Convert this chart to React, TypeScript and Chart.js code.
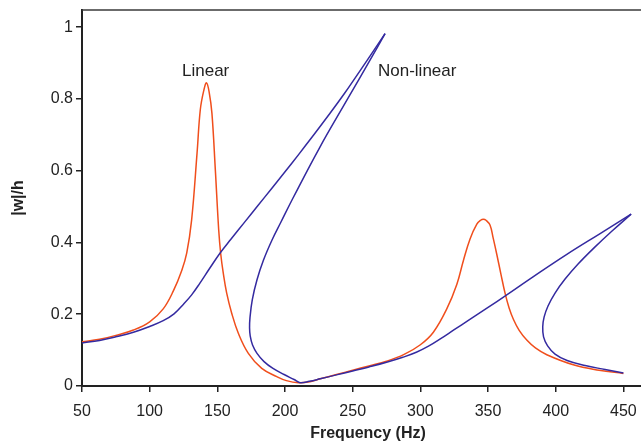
import React, { useEffect, useRef } from "react";
import { Chart, registerables } from "chart.js";

Chart.register(...registerables);

// Linear response
const linearFreq = [50, 63, 75, 88, 100, 110, 117.5, 123.7, 127.4, 131, 135, 137.4, 140, 142, 144, 146, 148.5, 151, 152.5, 154.4, 156.9, 160.6, 165.5, 172.9, 182.8, 193.9, 201, 209.8, 218.5, 226, 238, 250, 262, 275, 288, 300, 309.6, 319.5, 326.9, 331.8, 336.7, 341.7, 344.5, 346.5, 348.5, 351.5, 353.8, 356.4, 359.5, 362.6, 365.5, 368.7, 373, 378.6, 385, 393.4, 413, 432, 450];
const linearAmp = [0.123, 0.130, 0.141, 0.156, 0.179, 0.215, 0.265, 0.322, 0.371, 0.463, 0.649, 0.770, 0.824, 0.845, 0.818, 0.760, 0.603, 0.435, 0.368, 0.314, 0.259, 0.203, 0.147, 0.091, 0.049, 0.026, 0.015, 0.009, 0.012, 0.020, 0.032, 0.044, 0.056, 0.069, 0.088, 0.115, 0.150, 0.215, 0.283, 0.350, 0.410, 0.451, 0.462, 0.465, 0.462, 0.448, 0.412, 0.368, 0.312, 0.258, 0.218, 0.186, 0.155, 0.128, 0.106, 0.087, 0.059, 0.044, 0.035];

// Non-linear response: rising branch up to first jump
const nlRiseFreq = [50, 63, 75, 88, 100, 110, 118, 125, 131, 137, 144, 152.3, 160, 170, 180, 190, 200, 210, 220, 232, 244, 256, 265, 273.9];
const nlRiseAmp = [0.120, 0.127, 0.137, 0.150, 0.166, 0.182, 0.201, 0.228, 0.254, 0.286, 0.326, 0.372, 0.409, 0.456, 0.503, 0.550, 0.597, 0.645, 0.694, 0.754, 0.816, 0.882, 0.932, 0.982];

// Non-linear: unstable branch back, lower branch, rising to second jump
const nlMidFreq = [273.9, 262.9, 245.9, 225.5, 205.9, 197.0, 190.4, 184.1, 179.3, 175.8, 174.1, 173.8, 174.3, 176.0, 179.3, 184.5, 191.1, 199.3, 206.7, 211.1, 218, 226, 238, 250, 262, 275, 287, 297, 306, 315, 325, 336, 350, 363, 383.5, 408.2, 432.8, 455.7];
const nlMidAmp = [0.982, 0.909, 0.798, 0.664, 0.524, 0.457, 0.407, 0.351, 0.296, 0.240, 0.190, 0.162, 0.139, 0.114, 0.091, 0.068, 0.049, 0.032, 0.018, 0.0092, 0.013, 0.020, 0.031, 0.042, 0.053, 0.066, 0.080, 0.094, 0.111, 0.132, 0.157, 0.184, 0.219, 0.252, 0.305, 0.367, 0.425, 0.479];

// Non-linear: return branch after second jump
const nlReturnFreq = [455.7, 441.6, 428.3, 416.5, 406.9, 399.5, 394.3, 391.4, 390.4, 391.0, 394.0, 399.5, 408.4, 421.7, 436.5, 450];
const nlReturnAmp = [0.479, 0.432, 0.385, 0.340, 0.298, 0.259, 0.223, 0.192, 0.165, 0.137, 0.112, 0.089, 0.071, 0.057, 0.046, 0.036];

const xTicks = [50, 100, 150, 200, 250, 300, 350, 400, 450];
const yTicks = [0, 0.2, 0.4, 0.6, 0.8, 1];
const yTickLabels = ["0", "0.2", "0.4", "0.6", "0.8", "1"];

const ORANGE = "rgb(240, 78, 28)";
const BLUE = "rgb(52, 42, 160)";
const FONT = "'Liberation Sans', Arial, Helvetica, sans-serif";

export default function App() {
  const ref = useRef<HTMLCanvasElement>(null);

  useEffect(() => {
    document.body.style.margin = "0";
    const canvas = ref.current;
    if (!canvas) return;
    const pts = (f: number[], a: number[]) => f.map((x, i) => ({ x, y: a[i] }));

    const decor = {
      id: "decor",
      afterDraw(chart: any) {
        const { ctx, chartArea } = chart;
        ctx.save();
        ctx.strokeStyle = "#3a3a3a";
        ctx.lineWidth = 1.5;
        ctx.beginPath();
        ctx.moveTo(chartArea.left, chartArea.top);
        ctx.lineTo(chart.width, chartArea.top);
        ctx.stroke();

        ctx.fillStyle = "#222";
        ctx.font = `17px ${FONT}`;
        ctx.textAlign = "left";
        ctx.textBaseline = "alphabetic";
        ctx.fillText("Linear", 182, 76);
        ctx.fillText("Non-linear", 378, 76);

        ctx.font = `bold 16px ${FONT}`;
        ctx.textAlign = "center";
        ctx.fillText("Frequency (Hz)", 368, 438);

        ctx.translate(19, 198);
        ctx.rotate(-Math.PI / 2);
        ctx.textBaseline = "middle";
        ctx.fillText("|w|/h", 0, 0);
        ctx.restore();
      },
    };

    const lineDs = (data: any[], color: string) => ({
      data,
      showLine: true,
      borderColor: color,
      backgroundColor: color,
      borderWidth: 1.5,
      pointRadius: 0,
      pointHoverRadius: 0,
      tension: 0.4,
      fill: false,
    });

    const chart = new Chart(canvas, {
      type: "scatter",
      data: {
        datasets: [
          lineDs(pts(nlRiseFreq, nlRiseAmp), BLUE),
          lineDs(pts(nlMidFreq, nlMidAmp), BLUE),
          lineDs(pts(nlReturnFreq, nlReturnAmp), BLUE),
          lineDs(pts(linearFreq, linearAmp), ORANGE),
        ],
      },
      options: {
        responsive: false,
        animation: false,
        devicePixelRatio: 1,
        events: [],
        layout: { padding: { top: 10, left: 0, right: 0, bottom: 0 } },
        plugins: { legend: { display: false }, tooltip: { enabled: false } },
        scales: {
          x: {
            type: "linear",
            min: 50,
            max: 463,
            afterBuildTicks: (s: any) => {
              s.ticks = xTicks.map((v) => ({ value: v }));
            },
            afterFit: (s: any) => {
              s.height = 57;
              s.paddingLeft = 0;
              s.paddingRight = 0;
            },
            ticks: {
              autoSkip: false,
              maxRotation: 0,
              padding: 10,
              color: "#222",
              font: { family: FONT, size: 16 },
              callback: (v: any) => String(v),
            },
            grid: {
              display: true,
              drawOnChartArea: false,
              drawTicks: true,
              tickLength: 6,
              color: "#222",
              lineWidth: 1.5,
            },
            border: { display: true, color: "#222", width: 2 },
          },
          y: {
            type: "linear",
            min: 0,
            max: 1.048,
            afterBuildTicks: (s: any) => {
              s.ticks = yTicks.map((v) => ({ value: v }));
            },
            afterFit: (s: any) => {
              s.width = 82;
              s.paddingTop = 0;
              s.paddingBottom = 0;
            },
            ticks: {
              autoSkip: false,
              padding: 3,
              color: "#222",
              font: { family: FONT, size: 16 },
              callback: (v: any) => {
                const i = yTicks.indexOf(v);
                return i >= 0 ? yTickLabels[i] : String(v);
              },
            },
            grid: {
              display: true,
              drawOnChartArea: false,
              drawTicks: true,
              tickLength: 6,
              color: "#222",
              lineWidth: 1.5,
            },
            border: { display: true, color: "#222", width: 2 },
          },
        },
      },
      plugins: [decor],
    });

    return () => chart.destroy();
  }, []);

  return (
    <div style={{ width: 641, height: 443 }}>
      <canvas ref={ref} width={641} height={443} style={{ display: "block" }} />
    </div>
  );
}
